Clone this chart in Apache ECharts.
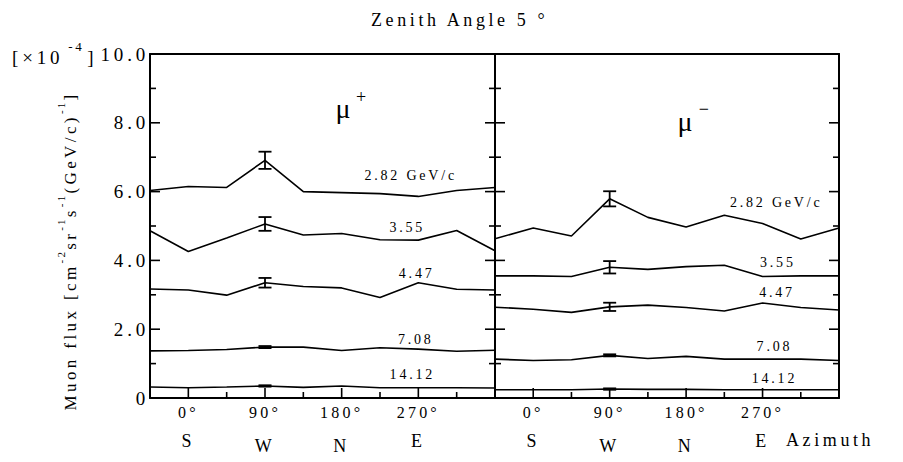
<!DOCTYPE html>
<html>
<head>
<meta charset="utf-8">
<script src="https://cdn.jsdelivr.net/npm/echarts@6/dist/echarts.min.js"></script>
<style>
html, body { margin: 0; padding: 0; background: #fff; }
#chart { width: 903px; height: 462px; }
/* the original typesetting is letter-spaced */
#chart text { letter-spacing: 0.2em; }
</style>
</head>
<body>
<div id="chart"></div>
<script>
// azimuth angle of each measurement (deg)
const azimuth = [-45, 0, 45, 90, 135, 180, 225, 270, 315, 360];
const momentumLabels = ['2.82 GeV/c', '3.55', '4.47', '7.08', '14.12'];

// mu+ flux [x1e-4]
const muPlus282  = [6.03, 6.15, 6.12, 6.91, 6.00, 5.97, 5.94, 5.86, 6.03, 6.12];
const muPlus355  = [4.86, 4.26, 4.65, 5.06, 4.74, 4.78, 4.60, 4.59, 4.87, 4.28];
const muPlus447  = [3.17, 3.14, 2.99, 3.35, 3.24, 3.20, 2.92, 3.35, 3.16, 3.14];
const muPlus708  = [1.37, 1.38, 1.41, 1.48, 1.48, 1.38, 1.46, 1.42, 1.36, 1.39];
const muPlus1412 = [0.32, 0.30, 0.32, 0.35, 0.31, 0.35, 0.30, 0.30, 0.30, 0.29];

// mu- flux [x1e-4]
const muMinus282  = [4.63, 4.94, 4.71, 5.79, 5.25, 4.97, 5.31, 5.07, 4.62, 4.94];
const muMinus355  = [3.55, 3.55, 3.53, 3.80, 3.74, 3.82, 3.86, 3.53, 3.55, 3.55];
const muMinus447  = [2.64, 2.58, 2.49, 2.65, 2.70, 2.63, 2.53, 2.76, 2.63, 2.56];
const muMinus708  = [1.13, 1.09, 1.11, 1.24, 1.15, 1.21, 1.13, 1.13, 1.13, 1.09];
const muMinus1412 = [0.24, 0.24, 0.24, 0.26, 0.25, 0.25, 0.24, 0.24, 0.24, 0.24];

// error bars are only drawn at W (90 deg)
const errAzimuth = 90;
const muPlusErr  = [0.25, 0.20, 0.14, 0.03, 0.02];
const muMinusErr = [0.22, 0.18, 0.12, 0.03, 0.02];

const xMin = -45, xMax = 360;
const xMajor = [0, 90, 180, 270];
const xMinor = [-45, 45, 135, 225, 315];
const yMajor = [0, 2, 4, 6, 8, 10];
const yMinor = [1, 3, 5, 7, 9];
const compass = {0: 'S', 90: 'W', 180: 'N', 270: 'E'};

// where the momentum / particle labels sit, in data units
const plusLabelPos  = [[261, 6.46], [257, 4.95], [268, 3.61], [267, 1.70], [263, 0.69]];
const minusLabelPos = [[286, 5.68], [288, 3.94], [287, 3.06], [284, 1.49], [284, 0.58]];
const muLabelPos   = [[185, 8.42], [182, 8.04]];
const signLabelPos = [[205, 8.74], [203, 8.39]];

const SERIF = '"Liberation Serif", serif';
const black = '#000';
const SPACING = 0.2; // em, same as the css

const MARK_ERR = 0, MARK_YTICK = 1, MARK_XTICK = 2;

const chart = echarts.init(document.getElementById('chart'), null, {renderer: 'svg'});

const mctx = document.createElement('canvas').getContext('2d');
function spacedWidth(txt, size) {
	mctx.font = size + 'px "Liberation Serif"';
	return mctx.measureText(txt).width + [...txt].length * SPACING * size;
}

function xAxes(g) {
	const plain = {
		type: 'value', gridIndex: g, min: xMin, max: xMax, position: 'bottom',
		axisLine: {show: false}, axisTick: {show: false}, axisLabel: {show: false}, splitLine: {show: false}
	};
	const letters = (values, margin) => Object.assign({}, plain, {
		axisLabel: {show: true, customValues: values, margin: margin, color: black, fontSize: 18, fontFamily: SERIF,
			formatter: v => compass[v]}
	});
	return [
		Object.assign({}, plain, {
			axisLine: {show: true, onZero: false, lineStyle: {color: black, width: 2}},
			axisLabel: {show: true, customValues: xMajor, margin: 6, color: black, fontSize: 16, fontFamily: SERIF,
				formatter: v => v + '°'}
		}),
		letters([0, 270], 34),
		letters([90, 180], 39),
		Object.assign({}, plain, {
			position: 'top',
			axisLine: {show: true, onZero: false, lineStyle: {color: black, width: 2}}
		})
	];
}

function yAxes(g, showLabels) {
	const base = pos => ({
		type: 'value', gridIndex: g, min: 0, max: 10, interval: 2, position: pos,
		axisLine: {show: true, onZero: false, lineStyle: {color: black, width: 2}},
		axisTick: {show: false},
		axisLabel: {show: false},
		splitLine: {show: false}
	});
	const left = base('left');
	if (showLabels) {
		left.axisLabel = {
			show: true, margin: 1, color: black, fontSize: 19, fontFamily: SERIF,
			formatter: v => (v === 0 ? '0' : v.toFixed(1))
		};
	}
	return [left, base('right')];
}

// error bars and the inward tick marks share one custom series,
// every mark placed through the axis scales with api.coord
function markSeries(xi, yi, values, errs) {
	const at = azimuth.indexOf(errAzimuth);
	const data = [
		...values.map((vals, i) => [errAzimuth, vals[at] - errs[i], vals[at] + errs[i], MARK_ERR]),
		...yMajor.map(v => [xMin, v, 10, MARK_YTICK]),
		...yMinor.map(v => [xMin, v, 6, MARK_YTICK]),
		...xMajor.map(v => [v, 0, 10, MARK_XTICK]),
		...xMinor.map(v => [v, 0, 6, MARK_XTICK])
	];
	return {
		type: 'custom', xAxisIndex: xi, yAxisIndex: yi, silent: true, clip: false,
		data: data,
		renderItem: (params, api) => {
			const kind = api.value(3);
			const st = w => ({stroke: black, lineWidth: w});
			if (kind === MARK_ERR) {
				const lo = api.coord([api.value(0), api.value(1)]);
				const hi = api.coord([api.value(0), api.value(2)]);
				const hw = 6.5;
				return {type: 'group', children: [
					{type: 'line', shape: {x1: lo[0], y1: lo[1], x2: hi[0], y2: hi[1]}, style: st(1.8)},
					{type: 'line', shape: {x1: lo[0] - hw, y1: lo[1], x2: lo[0] + hw, y2: lo[1]}, style: st(1.8)},
					{type: 'line', shape: {x1: hi[0] - hw, y1: hi[1], x2: hi[0] + hw, y2: hi[1]}, style: st(1.8)}
				]};
			}
			const len = api.value(2);
			if (kind === MARK_YTICK) {
				const a = api.coord([xMin, api.value(1)]), b = api.coord([xMax, api.value(1)]);
				return {type: 'group', children: [
					{type: 'line', shape: {x1: a[0], y1: a[1], x2: a[0] + len, y2: a[1]}, style: st(1.6)},
					{type: 'line', shape: {x1: b[0] - len, y1: b[1], x2: b[0], y2: b[1]}, style: st(1.6)}
				]};
			}
			const p = api.coord([api.value(0), 0]);
			return {type: 'group', children: [
				{type: 'line', shape: {x1: p[0], y1: p[1], x2: p[0], y2: p[1] - len}, style: st(1.6)}
			]};
		}
	};
}

function textSeries(xi, yi, items) {
	return {
		type: 'custom', xAxisIndex: xi, yAxisIndex: yi, silent: true, clip: false,
		data: items.map(it => it.value),
		renderItem: (params, api) => {
			const p = api.coord([api.value(0), api.value(1)]);
			const it = items[params.dataIndex];
			return {type: 'text', x: p[0], y: p[1], style: {
				text: it.name, fill: black, fontSize: it.size, fontFamily: SERIF,
				align: 'center', verticalAlign: 'middle', textAlign: 'center', textVerticalAlign: 'middle'
			}};
		}
	};
}

function panelSeries(xi, yi, values, errs, labelPos, muPos, signPos, muSign) {
	const out = [];
	values.forEach(vals => {
		out.push({
			type: 'line', xAxisIndex: xi, yAxisIndex: yi,
			data: azimuth.map((a, i) => [a, vals[i]]),
			showSymbol: false, silent: true,
			lineStyle: {color: black, width: 1.6}
		});
	});
	out.push(markSeries(xi, yi, values, errs));
	out.push(textSeries(xi, yi, [
		...labelPos.map((p, i) => ({value: p, name: momentumLabels[i], size: 14})),
		{value: muPos, name: 'μ', size: 28},
		{value: signPos, name: muSign, size: 18}
	]));
	return out;
}

// a row of plain texts, each placed after the previous one (letter spacing included)
function textRow(parts, startX) {
	let x = startX;
	return parts.map(([txt, size, dy, gap]) => {
		x += gap || 0;
		const el = {type: 'text', x: x, y: dy, style: {
			text: txt, fontSize: size, fontFamily: SERIF, fill: black,
			align: 'left', verticalAlign: 'middle', textAlign: 'left', textVerticalAlign: 'middle'}};
		x += spacedWidth(txt, size);
		return el;
	});
}

const yNameParts = [
	['Muon flux [cm', 17, 0], ['-2', 11, -9], ['sr', 17, 0], ['-1', 11, -9], ['s', 17, 0], ['-1', 11, -9],
	['(GeV/c)', 17, 0], ['-1', 11, -9], [']', 17, 0]
];
const yNameWidth = yNameParts.reduce((s, [t, sz]) => s + spacedWidth(t, sz), 0);

const textEl = (txt, x, y, size) => ({type: 'text', x: x, y: y, style: {
	text: txt, fontSize: size, fontFamily: SERIF, fill: black,
	align: 'left', verticalAlign: 'middle', textAlign: 'left', textVerticalAlign: 'middle'}});

const gridCommon = {top: 54, height: 344, outerBoundsMode: 'none'};

chart.setOption({
	animation: false,
	grid: [
		Object.assign({left: 150, width: 345}, gridCommon),
		Object.assign({left: 495, width: 344}, gridCommon)
	],
	xAxis: [...xAxes(0), ...xAxes(1)],
	yAxis: [...yAxes(0, true), ...yAxes(1, false)],
	series: [
		...panelSeries(0, 0, [muPlus282, muPlus355, muPlus447, muPlus708, muPlus1412], muPlusErr, plusLabelPos, muLabelPos[0], signLabelPos[0], '+'),
		...panelSeries(4, 2, [muMinus282, muMinus355, muMinus447, muMinus708, muMinus1412], muMinusErr, minusLabelPos, muLabelPos[1], signLabelPos[1], '−')
	],
	graphic: [
		textEl('Zenith Angle 5 °', 371, 20, 18),
		{type: 'group', x: 12, y: 57, children: textRow([['[×10', 19, 0], ['-4', 13, -11, 5], [']', 19, 0, 3]], 0)},
		{type: 'group', x: 70, y: 251, rotation: Math.PI / 2, children: textRow(yNameParts, -yNameWidth / 2)},
		textEl('Azimuth', 786, 440, 18)
	]
});
</script>
</body>
</html>
